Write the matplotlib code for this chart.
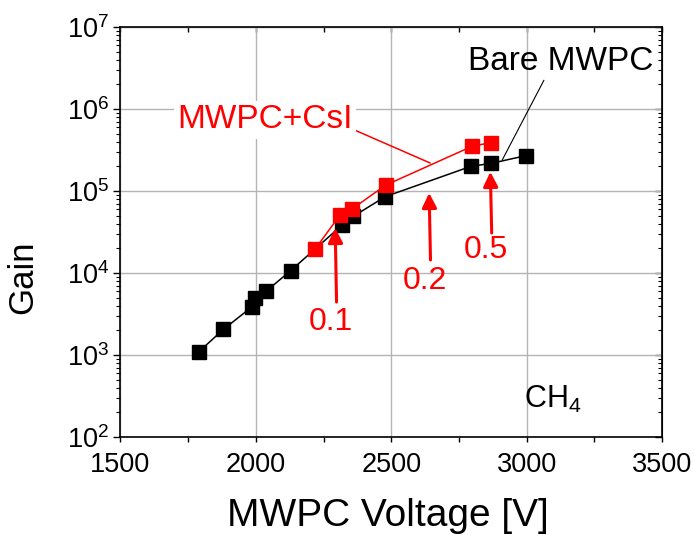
import numpy as np
import matplotlib
matplotlib.use("Agg")
import matplotlib.pyplot as plt
from matplotlib.ticker import MultipleLocator, LogLocator, NullFormatter

plt.rcParams['font.family'] = ['Liberation Sans', 'DejaVu Sans']
plt.rcParams['mathtext.fontset'] = 'custom'
plt.rcParams['mathtext.rm'] = 'Liberation Sans'

# bare MWPC (black squares)
bare_v = [1790, 1880, 1987, 1997, 2038, 2129, 2317, 2360, 2477, 2795, 2869, 2998]
bare_gain = [1.1e3, 2.05e3, 3.9e3, 5.0e3, 6.0e3, 1.07e4, 3.8e4, 4.9e4, 8.5e4, 2.0e5, 2.17e5, 2.7e5]

# MWPC with CsI photocathode (red squares)
csi_v = [2219, 2311, 2354, 2480, 2798, 2869]
csi_gain = [1.96e4, 5.1e4, 6.0e4, 1.18e5, 3.5e5, 3.9e5]

# red arrows: label, voltage the arrow points at
arrow_labels = ['0.1', '0.2', '0.5']
arrow_v = [2293, 2640, 2866]

RED = '#ff0000'

fig = plt.figure(figsize=(6.94, 5.35), dpi=100)
ax = fig.add_axes([0.1736, 0.1832, 0.7803, 0.7664])

ax.plot(bare_v, bare_gain, color='black', lw=1.1, marker='s', ms=10, mec='black', zorder=3)
ax.plot(csi_v, csi_gain, color=RED, lw=1.1, marker='s', ms=10, mec=RED, zorder=4)

ax.set_yscale('log')
ax.set_xlim(1500, 3500)
ax.set_ylim(1e2, 1e7)

ax.xaxis.set_major_locator(MultipleLocator(500))
ax.xaxis.set_minor_locator(MultipleLocator(250))
ax.yaxis.set_major_locator(LogLocator(base=10))
ax.yaxis.set_minor_locator(LogLocator(base=10, subs=np.arange(2, 10)))
ax.yaxis.set_minor_formatter(NullFormatter())

ax.set_axisbelow(True)
ax.grid(True, which='major', color='#b4b4b4', lw=1)

ax.tick_params(axis='x', which='both', direction='out', length=3.6, width=1, top=False,
               labelsize=19.5, pad=7.5)
ax.tick_params(axis='y', which='major', direction='out', length=5, width=1, right=False,
               labelsize=19.5, pad=3)
ax.tick_params(axis='y', which='minor', direction='out', length=3, width=0.8, right=False)
for s in ax.spines.values():
    s.set_linewidth(1.2)

# inward ticks on top and right
secx = ax.secondary_xaxis('top')
secx.xaxis.set_major_locator(MultipleLocator(500))
secx.xaxis.set_minor_locator(MultipleLocator(250))
secx.tick_params(which='both', direction='in', length=3.6, width=1, labeltop=False)
secy = ax.secondary_yaxis('right')
secy.yaxis.set_major_locator(LogLocator(base=10))
secy.yaxis.set_minor_locator(LogLocator(base=10, subs=np.arange(2, 10)))
secy.yaxis.set_minor_formatter(NullFormatter())
secy.tick_params(which='major', direction='in', length=5, width=1, labelright=False)
secy.tick_params(which='minor', direction='in', length=3, width=0.8, labelright=False)

ax.set_xlabel('MWPC Voltage [V]', fontsize=28, va='top')
ax.xaxis.set_label_coords(0.493, -0.149)
ax.set_ylabel('Gain', fontsize=25, va='center')
ax.yaxis.set_label_coords(-0.181, 0.39)

# curve labels
ax.annotate('MWPC+CsI', xy=(2644, 2.19e5), xytext=(2034, 7.35e5), color=RED, fontsize=24,
            ha='center', va='center', zorder=5,
            bbox=dict(boxstyle='square,pad=0.1', fc='white', ec='none'),
            arrowprops=dict(arrowstyle='-', color=RED, lw=1.1, shrinkA=0, shrinkB=0,
                            relpos=(1.0, 0.2)))
ax.annotate('Bare MWPC', xy=(2910, 2.39e5), xytext=(3124, 3.74e6), color='black', fontsize=24,
            ha='center', va='center', zorder=5,
            arrowprops=dict(arrowstyle='-', color='black', lw=0.8, shrinkA=0, shrinkB=0,
                            relpos=(0.42, 0.0)))

# arrows marking values
label_gain = [2.5e3, 8.0e3, 1.9e4]
tail_gain = [4.43e3, 1.44e4, 3.07e4]
tip_gain = [3.54e4, 9.46e4, 1.71e5]
for lab, v, lg, tg, hg in zip(arrow_labels, arrow_v, label_gain, tail_gain, tip_gain):
    ax.annotate('', xy=(v, hg), xytext=(v + 5, tg),
                arrowprops=dict(arrowstyle='-|>', color=RED, lw=2.2, mutation_scale=22,
                                shrinkA=0, shrinkB=0))
    ax.text(v - 15, lg, lab, color=RED, fontsize=23, ha='center', va='center')

ax.text(3098, 2.83e2, r'CH$_4$', fontsize=22, ha='center', va='center')

fig.savefig('out.png', dpi=100)
